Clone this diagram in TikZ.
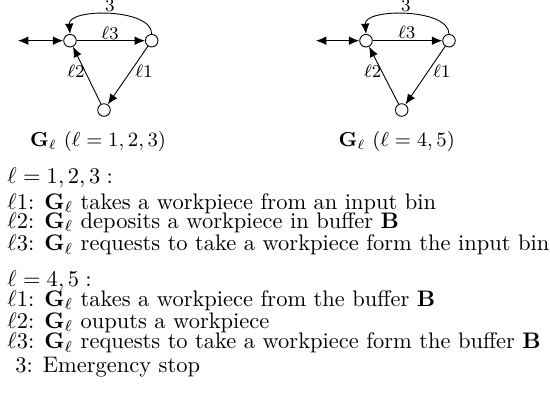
\documentclass[tikz,border=0pt]{standalone}
\usetikzlibrary{arrows.meta}
\begin{document}
\begin{tikzpicture}[x=0.445pt,y=-0.445pt,
  st/.style={circle,draw,minimum size=5.6pt,inner sep=0pt},
  ar/.style={-{Latex[length=4.6pt,width=3.8pt]}},
  dar/.style={{Latex[length=4.6pt,width=3.8pt]}-{Latex[length=4.6pt,width=3.8pt]}},
  lab/.style={font=\footnotesize,inner sep=0pt},
  toplab/.style={font=\footnotesize,inner sep=0pt,anchor=base},
  captxt/.style={font=\small,inner sep=0pt},
  txt/.style={anchor=base west,inner sep=0pt}]
\useasboundingbox (0,0) rectangle (550,397);
% left graph
\node[st] (A1) at (70,40.7) {};
\node[st] (C1) at (151.7,40.7) {};
\node[st] (D1) at (104,110) {};
\coordinate (I1) at (18,40.7);
\draw[dar] (I1) -- (A1);
\draw[ar] (A1) -- (C1);
\draw[ar] (C1) -- (D1);
\draw[ar] (D1) -- (A1);
\draw[ar] (C1.north) .. controls (152,8) and (68,8) .. (A1.north);
\node[toplab] (t31) at (110,11.5) {$3$};
\node[lab] (l31) at (110,33) {$\ell3$};
\node[lab] (l11) at (144,71.7) {$\ell1$};
\node[lab] (l21) at (76,71.7) {$\ell2$};
\node[captxt] (cap1) at (98,141.7) {$\mathbf{G}_\ell$ $(\ell=1,2,3)$};
% right graph
\node[st] (A2) at (366,40.7) {};
\node[st] (C2) at (449,40.7) {};
\node[st] (D2) at (401.7,110) {};
\coordinate (I2) at (316,40.7);
\draw[dar] (I2) -- (A2);
\draw[ar] (A2) -- (C2);
\draw[ar] (C2) -- (D2);
\draw[ar] (D2) -- (A2);
\draw[ar] (C2.north) .. controls (449,8) and (364,8) .. (A2.north);
\node[toplab] (t32) at (406,11.5) {$3$};
\node[lab] (l32) at (406.7,32.7) {$\ell3$};
\node[lab] (l12) at (441.7,71.7) {$\ell1$};
\node[lab] (l22) at (372.7,71.7) {$\ell2$};
\node[captxt] (cap2) at (396.7,141.7) {$\mathbf{G}_\ell$ $(\ell=4,5)$};
% text
\node[txt] (h1) at (7,183.3) {$\ell=1,2,3:$};
\node[txt] (a1) at (7,209) {$\ell1$: $\mathbf{G}_\ell$ takes a workpiece from an input bin};
\node[txt] (a2) at (7,228.3) {$\ell2$: $\mathbf{G}_\ell$ deposits a workpiece in buffer $\mathbf{B}$};
\node[txt] (a3) at (7,250.7) {$\ell3$: $\mathbf{G}_\ell$ requests to take a workpiece form the input bin};
\node[txt] (h2) at (7,286.3) {$\ell=4,5:$};
\node[txt] (b1) at (7,306.3) {$\ell1$: $\mathbf{G}_\ell$ takes a workpiece from the buffer $\mathbf{B}$};
\node[txt] (b2) at (7,328) {$\ell2$: $\mathbf{G}_\ell$ ouputs a workpiece};
\node[txt] (b3) at (7,348.7) {$\ell3$: $\mathbf{G}_\ell$ requests to take a workpiece form the buffer $\mathbf{B}$};
\node[txt] (e) at (15,372) {3: Emergency stop};
\end{tikzpicture}
\end{document}
